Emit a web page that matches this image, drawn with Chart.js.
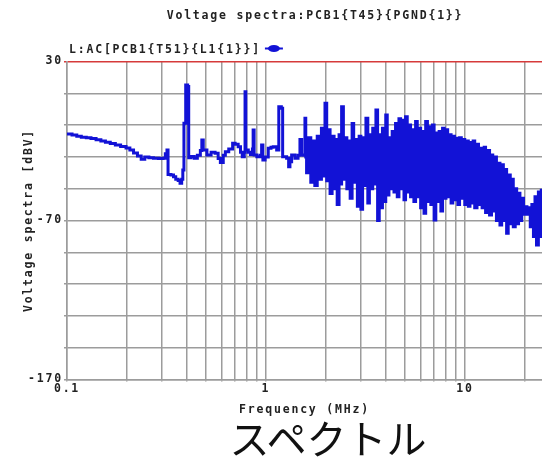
<!DOCTYPE html>
<html>
<head>
<meta charset="utf-8">
<script src="https://cdn.jsdelivr.net/npm/chart.js@4.4.1/dist/chart.umd.min.js"></script>
<style>
    html, body { margin: 0; padding: 0; background: #fff; }
    #wrap { position: relative; width: 542px; height: 460px; overflow: hidden; }
    #spectrum { position: absolute; left: 0; top: 0; }
    #caption {
        position: absolute; left: 228px; top: 416px; width: 200px;
        text-align: center; font-family: "Noto Sans CJK JP", sans-serif;
        font-size: 40px; line-height: 42px; color: #111;
    }
</style>
</head>
<body>
<div id="wrap">
    <canvas id="spectrum" width="542" height="420"></canvas>
    <div id="caption">スペクトル</div>
</div>
<script>
const chartTitle = 'Voltage spectra:PCB1{T45}{PGND{1}}';
const seriesLabel = 'L:AC[PCB1{T51}{L1{1}}]';
const xTitle = 'Frequency (MHz)';
const yTitle = 'Voltage spectra [dBV]';

// log grid lines and the few labelled ticks
const xGridValues = [0.1, 0.2, 0.3, 0.4, 0.5, 0.6, 0.7, 0.8, 0.9, 1, 2, 3, 4, 5, 6, 7, 8, 9, 10, 20];
const xLabelValues = [0.1, 1, 10];
const xLabelTexts = ['0.1', '1', '10'];
const yLabelValues = [30, -70, -170];

// frequency (MHz)
const freqs = [
    0.100, 0.106, 0.112, 0.118, 0.125, 0.132, 0.140, 0.148, 0.156, 0.165,
    0.175, 0.186, 0.198, 0.207, 0.216, 0.226, 0.236, 0.246, 0.258, 0.272,
    0.288, 0.304, 0.312, 0.318, 0.322, 0.333, 0.343, 0.352, 0.362, 0.370,
    0.377, 0.382, 0.387, 0.395, 0.404, 0.409, 0.420, 0.436, 0.452, 0.468,
    0.476, 0.484, 0.505, 0.530, 0.555, 0.575, 0.590, 0.610, 0.625, 0.650,
    0.680, 0.700, 0.725, 0.745, 0.760, 0.778, 0.785, 0.792, 0.815, 0.835,
    0.855, 0.862, 0.872, 0.900, 0.935, 0.951, 0.965, 0.990, 1.027, 1.060,
    1.088, 1.132, 1.160, 1.195, 1.213, 1.270, 1.300, 1.320, 1.346, 1.399,
    1.450, 1.482, 1.511, 1.540, 1.570, 1.585,
    1.60, 1.64, 1.68, 1.72, 1.76, 1.81, 1.86, 1.90, 1.94, 1.98,
    2.02, 2.06, 2.10, 2.15, 2.20, 2.24, 2.28, 2.33, 2.37, 2.40,
    2.45, 2.50, 2.55, 2.60, 2.65, 2.71, 2.76, 2.82, 2.88, 2.94,
    3.00, 3.06, 3.12, 3.18, 3.25, 3.31, 3.38, 3.44, 3.51, 3.57,
    3.64, 3.71, 3.78, 3.85, 3.92, 4.00, 4.07, 4.15, 4.23, 4.31,
    4.40, 4.48, 4.57, 4.66, 4.75, 4.84, 4.94, 5.03, 5.13, 5.23,
    5.33, 5.43, 5.54, 5.65, 5.76, 5.87, 5.99, 6.11, 6.23, 6.35,
    6.48, 6.61, 6.74, 6.87, 7.00, 7.14, 7.28, 7.42, 7.57, 7.72,
    7.87, 8.03, 8.19, 8.35, 8.52, 8.69, 8.86, 9.04, 9.22, 9.40,
    9.59, 9.78, 9.98, 10.2, 10.4, 10.6, 10.8, 11.0, 11.2, 11.5,
    11.7, 12.0, 12.2, 12.5, 12.7, 13.0, 13.3, 13.6, 13.8, 14.1,
    14.4, 14.7, 15.0, 15.3, 15.6, 15.9, 16.2, 16.5, 16.9, 17.2,
    17.5, 17.9, 18.2, 18.6, 18.9, 19.3, 19.7, 20.1, 20.5, 20.9,
    21.3, 21.7, 22.1, 22.5, 22.9, 23.4, 23.8, 24.2, 24.4
];

// voltage (dBV) at each frequency above
const voltage = [
    -15.6, -16.2, -17.0, -17.6, -18.0, -18.4, -19.2, -20.0, -20.8, -21.6,
    -22.5, -23.4, -24.4, -25.6, -27.5, -29.5, -31.5, -30.0, -30.6, -30.9,
    -31.0, -30.8, -28.0, -25.7, -41.0, -41.4, -42.5, -44.0, -44.8, -46.6,
    -44.0, -38.2, -8.9, 15.2, 14.2, -30.5, -29.8, -30.9, -29.0, -26.0,
    -19.4, -25.7, -28.8, -27.0, -27.7, -31.0, -33.6, -29.0, -26.7, -25.0,
    -21.4, -22.0, -23.6, -27.0, -29.9, -27.0, 11.0, -25.7, -27.0, -28.5,
    -25.0, -13.1, -28.8, -29.9, -29.0, -22.5, -32.0, -30.0, -24.6, -24.0,
    -23.6, -25.7, 1.6, 0.6, -29.9, -30.9, -36.2, -33.0, -28.8, -30.9,
    -29.0, -19.0, -28.8, -29.0, -5.7, -30.0,
    -40, -18, -46, -20, -48, -17, -44, -12, -42, 3.7,
    -45, -13, -53, -17, -50, -19, -60, -16, -47, 1.6,
    -44, -18, -50, -20, -56, -9, -46, -19, -61, -17,
    -63, -18, -48, -5.7, -59, -16, -50, -12, -47, -0.5,
    -70, -16, -62, -12, -58, -3.6, -54, -18, -50, -14,
    -52, -9, -55, -6, -50, -7, -57, -4.7, -52, -10,
    -55, -13, -58, -7.8, -55, -12, -62, -14, -65.5, -7.8,
    -58, -11, -60, -10, -69.7, -15, -58, -14, -64, -12,
    -56, -13, -55, -16, -59, -17, -57, -18.3, -60, -18,
    -56, -19, -60, -20, -61, -21, -59, -20, -62, -22,
    -60, -24.6, -62, -24, -65, -26, -66.5, -28.8, -64, -30,
    -70, -34, -72.8, -35, -70, -38, -78, -41.4, -72, -44,
    -74, -50, -72, -52.9, -70, -56, -66, -61.3, -66, -62,
    -74, -60, -80, -55, -85.4, -52, -80, -51, -78
];

const lineColor = '#1212d6';
const gridColor = '#9c9c9c';
const limitColor = '#d63a3a';
const textColor = '#222';
const textFont = { family: "'DejaVu Sans Mono', monospace", size: 11.5, weight: 'bold' };

// title + legend sit at fixed spots, like the original plot program
const captionPlugin = {
    id: 'captions',
    beforeDraw(chart) {
        if ('letterSpacing' in chart.ctx) chart.ctx.letterSpacing = '1.8px';
    },
    afterDraw(chart) {
        const ctx = chart.ctx;
        ctx.save();
        ctx.font = "bold 11.5px 'DejaVu Sans Mono', monospace";
        ctx.fillStyle = textColor;
        ctx.textBaseline = 'middle';
        ctx.textAlign = 'center';
        ctx.fillText(chartTitle, 315, 16);

        ctx.textAlign = 'left';
        ctx.fillText(seriesLabel, 69, 50);
        const mx = 69 + ctx.measureText(seriesLabel).width + 4;
        ctx.strokeStyle = lineColor;
        ctx.lineWidth = 2;
        ctx.beginPath();
        ctx.moveTo(mx, 48.5);
        ctx.lineTo(mx + 18, 48.5);
        ctx.stroke();
        ctx.fillStyle = lineColor;
        ctx.beginPath();
        ctx.ellipse(mx + 9, 48.5, 6, 3.5, 0, 0, Math.PI * 2);
        ctx.fill();
        ctx.restore();
    }
};

const points = freqs.map((f, i) => ({ x: f, y: voltage[i] }));

new Chart(document.getElementById('spectrum').getContext('2d'), {
    type: 'line',
    data: {
        datasets: [{
            label: seriesLabel,
            data: points,
            borderColor: lineColor,
            borderWidth: 3,
            pointRadius: 0,
            stepped: true,
            fill: false
        }]
    },
    options: {
        responsive: false,
        animation: false,
        layout: { padding: { top: 61.5, right: 0, bottom: 0, left: 0 } },
        plugins: {
            legend: { display: false },
            title: { display: false },
            tooltip: { enabled: false }
        },
        scales: {
            x: {
                type: 'logarithmic',
                min: 0.1,
                max: 24.4,
                afterFit: s => { s.height = 40.5; },
                afterBuildTicks: s => { s.ticks = xGridValues.map(v => ({ value: v })); },
                ticks: {
                    autoSkip: false,
                    maxRotation: 0,
                    minRotation: 0,
                    padding: 1,
                    color: textColor,
                    font: textFont,
                    callback: v => {
                        const k = xLabelValues.indexOf(v);
                        return k >= 0 ? xLabelTexts[k] : '';
                    }
                },
                grid: { color: gridColor, lineWidth: 1.5, tickLength: 2 },
                border: { color: gridColor, width: 1.5 },
                title: { display: true, text: xTitle, color: textColor, font: textFont, padding: { top: 0, bottom: 3 } }
            },
            y: {
                min: -170,
                max: 30,
                afterFit: s => { s.width = 67; },
                ticks: {
                    stepSize: 20,
                    autoSkip: false,
                    padding: 1,
                    color: textColor,
                    font: textFont,
                    callback: v => yLabelValues.includes(v) ? String(v) : ''
                },
                grid: {
                    color: c => (c.tick && c.tick.value === 30) ? limitColor : gridColor,
                    lineWidth: 1.5,
                    tickLength: 3
                },
                border: { color: gridColor, width: 1.5 },
                title: { display: true, text: yTitle, color: textColor, font: textFont, padding: { top: 22, bottom: 0 } }
            }
        }
    },
    plugins: [captionPlugin]
});
</script>
</body>
</html>
